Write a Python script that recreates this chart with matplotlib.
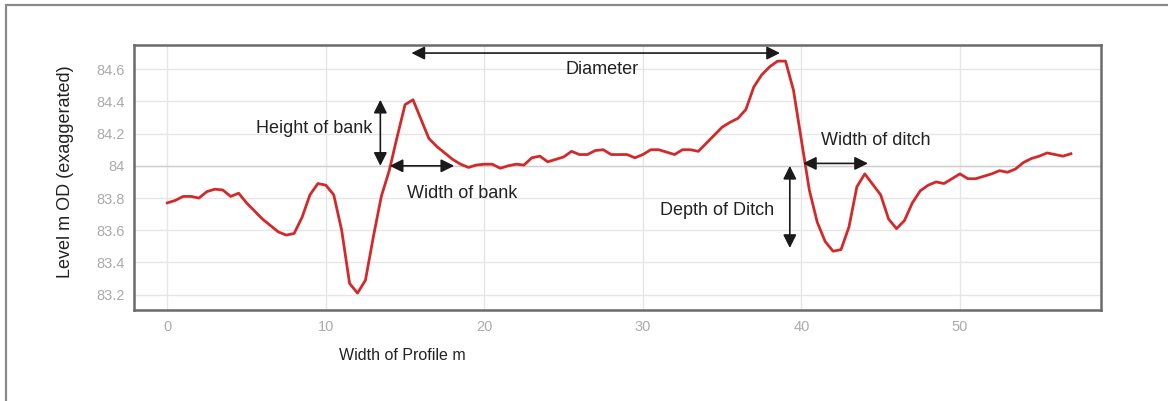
import numpy as np
import matplotlib.pyplot as plt
from matplotlib.patches import Rectangle

plt.rcParams['font.family'] = ['Liberation Sans', 'DejaVu Sans']

# surveyed profile across the barrow, 0.5 m spacing
distance = np.arange(0, 57.5, 0.5)
level = [
    83.77, 83.785, 83.81, 83.81, 83.80, 83.84, 83.855, 83.85, 83.81, 83.83,
    83.77, 83.72, 83.67, 83.63, 83.59, 83.57, 83.58, 83.68, 83.82, 83.89,
    83.88, 83.82, 83.60, 83.27, 83.21, 83.29, 83.56, 83.81, 83.97, 84.18,
    84.38, 84.41, 84.29, 84.17, 84.12, 84.08, 84.04, 84.01, 83.99, 84.005,
    84.01, 84.01, 83.985, 84.00, 84.01, 84.005, 84.05, 84.06, 84.025, 84.04,
    84.055, 84.09, 84.07, 84.07, 84.095, 84.10, 84.07, 84.07, 84.07, 84.05,
    84.07, 84.10, 84.10, 84.085, 84.07, 84.10, 84.10, 84.09, 84.14, 84.19,
    84.24, 84.27, 84.295, 84.35, 84.49, 84.565, 84.615, 84.65, 84.65, 84.47,
    84.16, 83.85, 83.65, 83.53, 83.47, 83.48, 83.62, 83.87, 83.95, 83.885,
    83.82, 83.67, 83.61, 83.66, 83.77, 83.845, 83.88, 83.90, 83.89, 83.92,
    83.95, 83.92, 83.92, 83.935, 83.95, 83.97, 83.96, 83.98, 84.02, 84.045,
    84.06, 84.08, 84.07, 84.06, 84.075,
]

x_ticks = [0, 10, 20, 30, 40, 50]
y_ticks = [83.2, 83.4, 83.6, 83.8, 84.0, 84.2, 84.4, 84.6]
y_tick_labels = ['83.2', '83.4', '83.6', '83.8', '84', '84.2', '84.4', '84.6']

# dimension arrows: start, end
diameter = ((15.4, 84.70), (38.65, 84.70))
bank_height = ((13.44, 84.41), (13.44, 84.0))
bank_width = ((14.03, 84.0), (18.1, 84.0))
ditch_width = ((40.1, 84.015), (44.2, 84.015))
ditch_depth = ((39.27, 84.0), (39.27, 83.49))

fig = plt.figure(figsize=(11.68, 4.01), dpi=100)
fig.patches.append(Rectangle((6 / 1168, -0.1), 1.2, 1.1 - 5 / 401, transform=fig.transFigure,
                             fill=False, edgecolor='#8a8a8a', lw=1.6))

ax = fig.add_axes([134 / 1168, 1 - 310 / 401, (1101 - 134) / 1168, (310 - 45) / 401])
ax.set_xlim(-2.1, 58.9)
ax.set_ylim(83.105, 84.75)

ax.set_xticks(x_ticks)
ax.set_yticks(y_ticks)
ax.set_yticklabels(y_tick_labels)
ax.tick_params(length=0, labelsize=10.5, labelcolor='#ababab', pad=7)
ax.grid(True, color='#e6e6e6', lw=1.0)
ax.axhline(84.0, color='#cfcfcf', lw=1.0, zorder=1)
ax.set_axisbelow(True)
for s in ax.spines.values():
    s.set_color('#6a6a6a')
    s.set_linewidth(1.8)

ax.plot(distance, level, color='#d22a2a', lw=2.0, zorder=3)

arrow = dict(arrowstyle='<|-|>', color='#1a1a1a', lw=1.2, mutation_scale=20,
             shrinkA=0, shrinkB=0)
for start, end in [diameter, bank_height, bank_width, ditch_width, ditch_depth]:
    ax.annotate('', xy=end, xytext=start, arrowprops=arrow, zorder=4)

txt = dict(fontsize=13, color='#222222', va='center')
ax.text(27.4, 84.60, 'Diameter', ha='center', **txt)
ax.text(12.95, 84.23, 'Height of bank', ha='right', **txt)
ax.text(15.12, 83.83, 'Width of bank', ha='left', **txt)
ax.text(41.24, 84.16, 'Width of ditch', ha='left', **txt)
ax.text(38.3, 83.72, 'Depth of Ditch', ha='right', **txt)

fig.text(402 / 1168, 1 - 355 / 401, 'Width of Profile m', ha='center', va='center',
         fontsize=11.5, color='#222222')
fig.text(65 / 1168, 1 - 172 / 401, 'Level m OD (exaggerated)', ha='center', va='center',
         rotation=90, fontsize=13, color='#222222')

fig.savefig('out.png', dpi=100)
